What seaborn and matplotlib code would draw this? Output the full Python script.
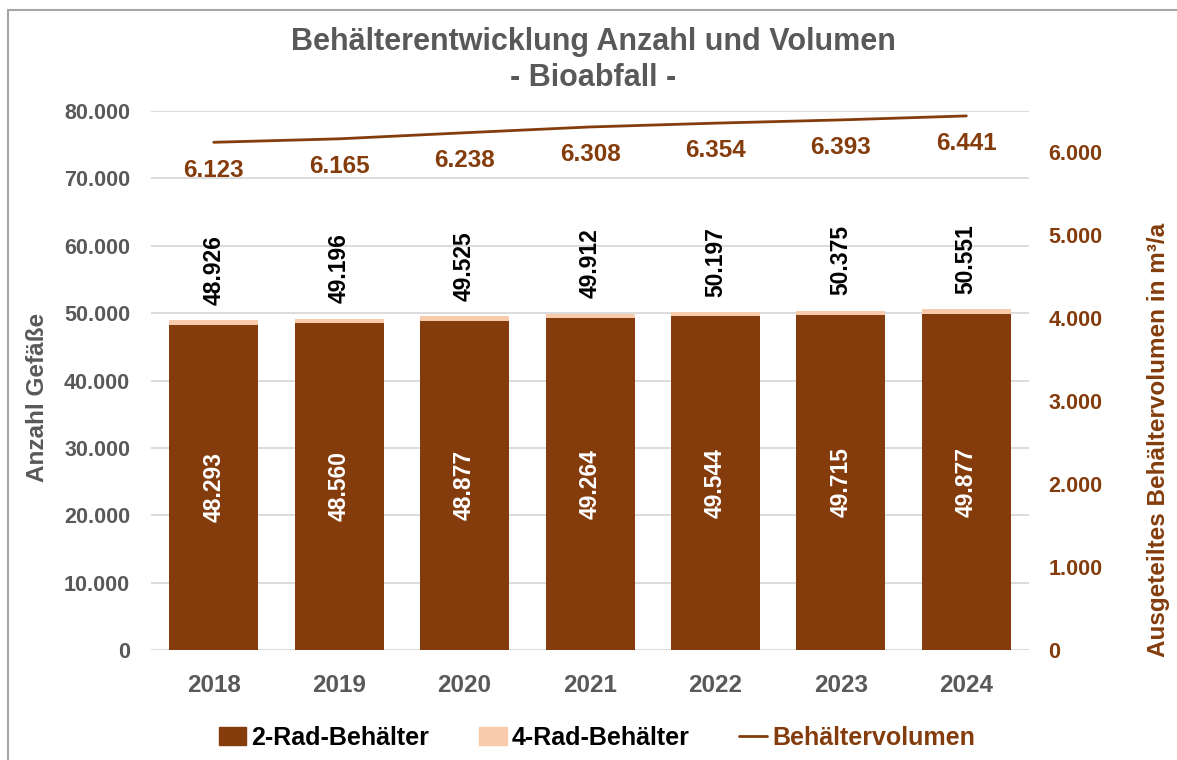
import numpy as np
import pandas as pd
import seaborn as sns
import matplotlib.pyplot as plt
from matplotlib.patches import Patch, Rectangle
from matplotlib.lines import Line2D

# Daten
years = ["2018", "2019", "2020", "2021", "2022", "2023", "2024"]
rad2 = [48293, 48560, 48877, 49264, 49544, 49715, 49877]
total = [48926, 49196, 49525, 49912, 50197, 50375, 50551]
volume = [6123, 6165, 6238, 6308, 6354, 6393, 6441]

brown = "#843C0C"
peach = "#F8CBAD"
grey = "#595959"


def de(v):
    # deutsche Tausenderpunkte
    return f"{v:,.0f}".replace(",", ".")


sns.set_style("white")
plt.rcParams["font.family"] = ["Liberation Sans", "DejaVu Sans"]
plt.rcParams["font.weight"] = "bold"

df = pd.DataFrame({"Jahr": years, "2-Rad": rad2, "Gesamt": total})

fig = plt.figure(figsize=(11.77, 7.6), dpi=100)
ax = fig.add_axes([0.1283, 0.1447, 0.7460, 0.7092])
ax.set_axisbelow(True)
ax.yaxis.grid(True, color="#D9D9D9", lw=1.3, zorder=0)

# Gesamt (4-Rad obendrauf) zuerst, dann 2-Rad darueber
sns.barplot(data=df, x="Jahr", y="Gesamt", color=peach, width=0.71, saturation=1,
            errorbar=None, linewidth=0, ax=ax, zorder=2)
sns.barplot(data=df, x="Jahr", y="2-Rad", color=brown, width=0.71, saturation=1,
            errorbar=None, linewidth=0, ax=ax, zorder=3)

ax.bar_label(ax.containers[0], labels=[de(v) for v in total], rotation=90, padding=11,
             fontsize=16.5, color="black", fontweight="bold")
ax.bar_label(ax.containers[1], labels=[de(v) for v in rad2], label_type="center",
             rotation=90, fontsize=16.5, color="white", fontweight="bold")

ax.set_xlim(-0.5, 6.5)
ax.set_ylim(0, 80000)
yt = np.arange(0, 80001, 10000)
ax.set_yticks(yt)
ax.set_yticklabels([de(v) for v in yt], fontsize=15.5, color=grey, fontweight="bold")
ax.tick_params(axis="y", length=0, pad=15)
ax.tick_params(axis="x", length=0, pad=17, labelsize=17.5, labelcolor=grey)
for t in ax.get_xticklabels():
    t.set_fontweight("bold")
ax.set_xlabel("")
ax.set_ylabel("")
sns.despine(ax=ax, left=True, bottom=True)

# Volumen auf zweiter Achse
ax2 = ax.twinx()
sns.lineplot(x=np.arange(len(years)), y=volume, ax=ax2, color=brown, lw=2)
ax2.set_ylim(0, 6500)
yt2 = np.arange(0, 6001, 1000)
ax2.set_yticks(yt2)
ax2.set_yticklabels([de(v) for v in yt2], fontsize=15.5, color=brown, fontweight="bold")
ax2.tick_params(axis="y", length=0, pad=14)
ax2.set_ylabel("")
for s in ax2.spines.values():
    s.set_visible(False)
for i, v in enumerate(volume):
    ax2.annotate(de(v), (i, v), xytext=(0, -20), textcoords="offset points",
                 ha="center", va="center", fontsize=17.5, color=brown, fontweight="bold")

# Titel und Achsentitel
fig.text(0.504, 1 - 60 / 760, "Behälterentwicklung Anzahl und Volumen\n- Bioabfall -",
         ha="center", va="center", fontsize=22, color=grey, fontweight="bold",
         linespacing=1.3)
fig.text(38 / 1177, 1 - 397 / 760, "Anzahl Gefäße", rotation=90, ha="center", va="center",
         fontsize=17.5, color=grey, fontweight="bold")
fig.text(1158 / 1177, 1 - 440 / 760, "Ausgeteiltes Behältervolumen in m³/a", rotation=90,
         ha="center", va="center", fontsize=17.5, color=brown, fontweight="bold")

# Legende
handles = [Patch(color=brown), Patch(color=peach), Line2D([], [], color=brown, lw=2)]
labels = ["2-Rad-Behälter", "4-Rad-Behälter", "Behältervolumen"]
leg = fig.legend(handles, labels, loc="center", bbox_to_anchor=(0.507, 0.029), ncol=3,
                 frameon=False, prop={"size": 18, "weight": "bold"}, handlelength=1.1,
                 handletextpad=0.2, columnspacing=2.0)
for txt, c in zip(leg.get_texts(), ["black", "black", brown]):
    txt.set_color(c)

# Rahmen
fig.add_artist(Rectangle((8 / 1177, -0.05), 1.0, 1.05 - 10 / 760, transform=fig.transFigure,
                         fill=False, ec="#A6A6A6", lw=1.5))

fig.savefig("out.png", dpi=100)
